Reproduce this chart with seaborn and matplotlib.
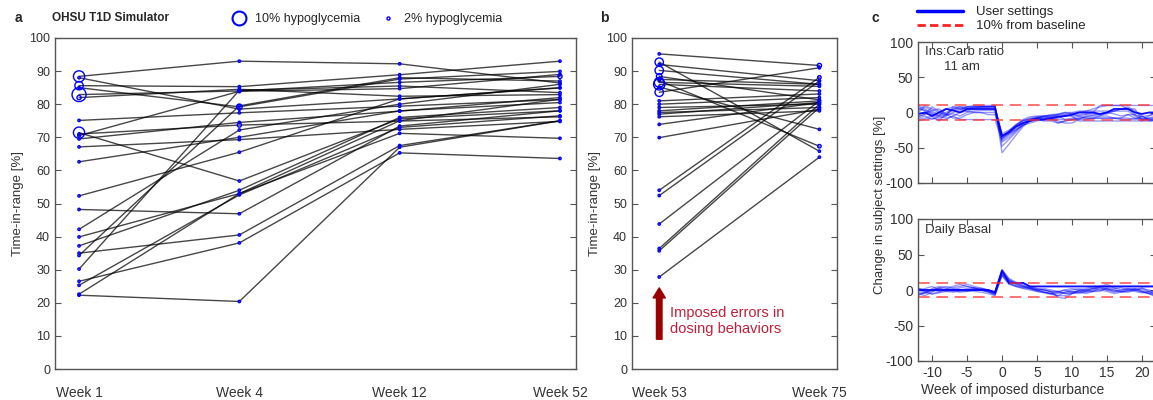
import numpy as np
import pandas as pd
import matplotlib
matplotlib.use("Agg")
import matplotlib.pyplot as plt
from matplotlib.lines import Line2D
import seaborn as sns

sns.set_style("ticks")
plt.rcParams['font.family'] = ['Liberation Sans', 'DejaVu Sans']
plt.rcParams['axes.unicode_minus'] = False

# ---------------- Panel a data ----------------
weeks_a = ["Week 1", "Week 4", "Week 12", "Week 52"]
tir_w1 = [88.4, 88.0, 85.6, 85.0, 82.9, 82.0, 75.1, 71.4, 70.5, 71.0, 69.5, 67.1, 62.6,
          52.3, 48.2, 42.2, 39.9, 37.2, 35.0, 34.3, 30.2, 26.5, 25.3, 22.6, 22.3]
tir_w4 = [93.0, 78.5, 85.3, 79.2, 84.0, 84.5, 77.4, 56.8, 83.9, 73.7, 74.5, 69.3, 70.0,
          65.5, 46.9, 72.2, 53.0, 54.0, 40.5, 79.5, 84.2, 38.1, 52.6, 53.0, 20.4]
tir_w12 = [92.2, 81.6, 88.9, 87.6, 86.6, 82.4, 79.4, 75.6, 84.7, 74.9, 77.9, 72.4, 78.0,
           81.6, 73.4, 80.0, 71.2, 76.0, 67.5, 88.0, 85.5, 65.3, 73.0, 75.0, 67.0]
tir_w52 = [86.4, 84.9, 93.0, 89.9, 88.4, 82.9, 81.4, 78.0, 89.0, 76.2, 82.0, 74.8, 80.5,
           85.0, 78.0, 86.0, 69.7, 79.0, 75.0, 87.0, 83.5, 63.6, 76.5, 81.5, 75.0]
hypo_w1 = [8, 1, 6, 1, 10, 3, 1, 8, 2, 1, 1, 1, 1, 1, 1.5, 1, 1, 1, 1, 1, 1, 1, 1, 1, 1]
hypo_w4 = [1, 1.5, 1, 4, 2.5, 1, 1.5, 1, 1, 3, 1, 1, 1, 1, 1, 1, 1, 1, 1.5, 1, 1, 1, 1, 1, 1]
hypo_w12 = [1, 1, 1, 1, 1, 1, 1, 1, 1.5, 1, 1, 1, 1, 1, 1, 1, 1, 1, 1, 1, 1, 1, 1, 1, 1]
hypo_w52 = [1, 1, 1, 1, 3, 1, 1, 1, 1, 1, 1, 1, 1, 1, 1, 1, 1, 1, 1, 1, 1, 1, 1, 1, 1]

# ---------------- Panel b data ----------------
weeks_b = ["Week 53", "Week 75"]
tir_w53 = [95.2, 92.7, 92.0, 90.2, 88.4, 87.5, 87.1, 86.6, 86.0, 85.2, 83.6, 81.0, 80.0,
           79.0, 78.0, 77.5, 77.0, 76.2, 73.9, 69.9, 54.0, 52.4, 43.8, 36.4, 35.7, 27.8]
tir_w75 = [91.7, 65.8, 87.1, 86.0, 81.3, 86.0, 67.3, 85.4, 84.0, 72.4, 91.0, 83.1, 82.0,
           80.0, 81.0, 79.0, 80.5, 78.0, 80.5, 78.5, 88.1, 87.0, 81.0, 80.0, 79.0, 64.0]
hypo_w53 = [1, 6, 1, 6, 4, 1, 1, 7, 8, 1, 6, 1, 1, 1, 1, 1, 1, 1, 0.8, 1, 1, 0.8, 0.8, 0.8, 0.8, 1.2]
hypo_w75 = [3, 1, 1, 1, 1, 1, 2.5, 1, 1, 1, 1, 1, 1, 1, 1, 1, 1, 1, 1, 1, 2.5, 1, 1, 1, 1, 1]

# ---------------- Panel c data ----------------
weeks_c = list(range(-12, 23))
icr_lines = [
    [-5, -3, 8, 2, -3, 5, 6, 6, 7, 8, 8, 8, -35,
     -28, -20, -12, -8, -6, -5, -4, -3, -2, -1, 0, 2, 5, 8, 10, 10, 10, 10, 10, 10, 10, 10],
    [-10, -8, -5, -12, -2, 3, 5, 8, 8, 8, 8, 8, -38,
     -30, -22, -15, -10, -8, -8, -6, -5, -10, -8, -5, -3, -2, -3, -2, 2, 5, 5, -3, -10, -5, 0],
    [10, 5, -2, -5, -8, -5, -10, -10, -10, -10, -10, -10, -40,
     -32, -25, -18, -12, -10, -12, -12, -15, -12, -10, -10, -10, -8, -5, 0, 2, 5, 8, 2, -5, -12, -10],
    [0, 8, 2, -3, 0, 5, 8, 5, 8, 8, 8, 10, -57,
     -45, -32, -20, -12, -8, -6, -5, -5, -3, -5, -12, -12, -12, -12, -12, -12, -12, -12, -12, -12, -12, -12],
    [-8, -5, -10, -5, 5, 8, 5, 2, 5, 8, 8, 8, -30,
     -25, -18, -10, -6, -5, -5, -3, -2, 0, -2, -5, -8, -8, -8, -8, -8, -8, -8, -10, -5, -10, -8],
    [3, 10, 5, 0, -5, 0, 3, 8, 10, 10, 10, 10, -42,
     -35, -26, -16, -10, -8, -10, -10, -8, -5, -5, -3, -2, 0, 10, 10, 10, 10, 5, 5, -10, -10, -12],
    [-12, -10, -8, -10, -10, -5, 0, 2, 0, 0, 0, 0, -34,
     -26, -18, -12, -10, -8, -8, -8, -15, -12, -10, -8, -8, -8, -8, -8, -8, -8, -3, -8, -8, -8, -8],
    [8, 2, -3, -8, -5, 8, 8, 8, 8, 8, 8, 8, -48,
     -38, -28, -18, -12, -8, -5, -5, -3, 0, 0, 2, 2, 2, 2, 2, 2, 2, 2, -5, -10, -10, -10],
    [-6, -2, 3, 5, -2, -8, -8, -3, 0, 0, -3, -3, -37,
     -27, -17, -11, -9, -7, -6, -8, -10, -10, -10, -8, -6, -4, -2, 0, -2, -5, -3, -3, -6, -4, -2],
    [5, 3, 0, -5, -3, -2, -5, 0, 2, 3, 3, 3, -36,
     -30, -24, -18, -15, -12, -10, -10, -12, -15, -15, -10, -5, -5, -5, -5, -8, -10, -10, -8, -12, -8, -5],
    [-2, 0, -5, 0, 5, 3, 0, 5, 5, 5, 5, 5, -33,
     -28, -20, -15, -12, -10, -10, -8, -6, -5, -3, 0, 0, 0, -2, 0, 5, 5, 5, 0, -2, 0, 0],
]
basal_lines = [
    [-3, -5, 0, 3, 0, -2, 0, 2, 3, 0, -2, -5, 25,
     12, 10, 10, 5, 2, 0, -2, -10, -12, -5, 0, 2, 5, 5, 5, 5, 5, 5, 5, 5, 5, 5],
    [0, 2, 5, 0, -2, 0, 3, 5, 3, 0, -3, -6, 28,
     15, 8, 5, 3, 0, -3, -5, -5, -3, 0, 2, 0, -2, 3, 0, -3, 0, 2, 0, -3, -5, -8],
    [-5, -8, -3, 2, 0, 0, 0, 0, -2, -3, -5, -8, 22,
     10, 5, 3, 2, 0, 0, -2, -3, -5, -5, -3, 0, 2, 3, 0, 0, -2, 0, 2, 0, -3, -5],
    [2, 0, -2, 3, 5, 3, 5, 8, 5, 3, 0, -3, 26,
     14, 10, 6, 3, 0, 2, 0, -2, 0, 2, 0, -2, 0, 5, 8, 3, 0, 2, 0, 3, -2, -3],
    [-8, -3, 0, -2, 0, 2, 0, -2, 0, 0, -2, -5, 20,
     8, 5, 2, 0, -2, -3, -5, -8, -3, -2, -3, -5, -2, 0, 2, -2, -3, -2, 0, -2, -5, -10],
    [3, -2, -5, -3, 2, 5, 8, 5, 3, 2, 0, -5, 24,
     13, 8, 5, 2, 0, -3, -5, -3, 0, -3, -5, -2, 2, 0, -2, -5, -3, 0, 2, -2, -5, -6],
    [-6, -4, 2, 5, 3, 0, -3, -2, 0, 2, 0, -4, 29,
     16, 11, 7, 4, 2, 0, -3, -2, -5, -3, -1, 0, 3, 5, 2, 0, -2, -3, 0, 2, 0, -4],
    [0, -3, -6, -4, -2, -3, -2, 0, 2, 0, -2, -7, 21,
     9, 6, 4, 2, -2, -4, -6, -8, -8, -5, -2, -3, -2, -2, 3, 2, 3, 0, -2, -4, -2, -7],
    [0, 0, 0, 0, 0, 0, 0, 0, 0, 0, 0, -3, 27,
     10, 10, 10, 5, 5, 5, 5, 5, 5, 5, 5, 5, 5, 5, 5, 5, 5, 5, 5, 5, 5, 5],
]
baseline_band = [10, -10]

# ---------------- helpers ----------------
W, H = 1153, 400
fig = plt.figure(figsize=(W / 100, H / 100), dpi=100)

def px_axes(l, t, r, b):
    return fig.add_axes([l / W, 1 - b / H, (r - l) / W, (b - t) / H])

SPINE = '#555555'
TXT = '#333333'
BLUE = '#0000ff'

def style_axes(ax):
    for s in ax.spines.values():
        s.set_color(SPINE)
        s.set_linewidth(1.0)
    ax.tick_params(direction='in', colors=SPINE, labelcolor=TXT, top=True, right=True,
                   length=4, width=0.8)

def long_df(cols, hypos):
    rows = []
    n = len(cols[0])
    for j in range(n):
        for i in range(len(cols)):
            h = hypos[i][j]
            d_px = max(1.4 * h, 2.4)
            d_pt = d_px * 0.72
            rows.append(dict(subject=j, pos=i, tir=cols[i][j], area=d_pt ** 2))
    return pd.DataFrame(rows)

def draw_tir(ax, df):
    sns.lineplot(data=df, x='pos', y='tir', units='subject', estimator=None, sort=False,
                 color='black', alpha=0.72, lw=1.0, ax=ax, legend=False)
    lo, hi = df['area'].min(), df['area'].max()
    sns.scatterplot(data=df, x='pos', y='tir', size='area', sizes=(lo, hi), size_norm=(lo, hi),
                    facecolor='none', edgecolor=BLUE, linewidth=1.0, ax=ax, legend=False, zorder=3)

# ---------------- Panel a ----------------
axa = px_axes(55, 38, 576, 369)
dfa = long_df([tir_w1, tir_w4, tir_w12, tir_w52], [hypo_w1, hypo_w4, hypo_w12, hypo_w52])
draw_tir(axa, dfa)
style_axes(axa)
axa.set_xlim(-0.15, 3.1)
axa.set_ylim(0, 100)
axa.set_yticks(range(0, 101, 10))
axa.set_xticks(range(4))
axa.set_xticklabels(weeks_a, fontsize=10)
axa.tick_params(axis='x', length=0, pad=12)
axa.tick_params(axis='y', labelsize=9)
axa.set_xlabel('')
axa.set_ylabel('Time-in-range [%]', fontsize=9.5, color=TXT, labelpad=4)

# ---------------- Panel b ----------------
axb = px_axes(632, 38, 837, 369)
dfb = long_df([tir_w53, tir_w75], [hypo_w53, hypo_w75])
draw_tir(axb, dfb)
style_axes(axb)
axb.set_xlim(-0.17, 1.11)
axb.set_ylim(0, 100)
axb.set_yticks(range(0, 101, 10))
axb.set_xticks(range(2))
axb.set_xticklabels(weeks_b, fontsize=10)
axb.tick_params(axis='x', length=0, pad=12)
axb.tick_params(axis='y', labelsize=9)
axb.set_xlabel('')
axb.set_ylabel('Time-in-range [%]', fontsize=9.5, color=TXT, labelpad=4)
axb.annotate('', xy=(0, 24.5), xytext=(0, 9),
             arrowprops=dict(arrowstyle='simple,head_width=1.1,head_length=0.9,tail_width=0.5',
                             color='#9b0000', mutation_scale=8, shrinkA=0, shrinkB=0))
axb.text(0.07, 14.5, 'Imposed errors in\ndosing behaviors', color='#c21f3a', fontsize=10.5,
         ha='left', va='center', linespacing=1.15)

# ---------------- Panel c ----------------
def draw_c(ax, lines):
    rows = []
    for k, ln in enumerate(lines):
        for w, v in zip(weeks_c, ln):
            rows.append(dict(line=k, week=w, val=v))
    df = pd.DataFrame(rows)
    sns.lineplot(data=df, x='week', y='val', units='line', estimator=None, color=BLUE,
                 alpha=0.4, lw=1.0, ax=ax, legend=False)
    last = df[df['line'] == len(lines) - 1]
    sns.lineplot(data=last, x='week', y='val', color=BLUE, alpha=0.9, lw=1.3, ax=ax, legend=False)
    for yb in baseline_band:
        ax.axhline(yb, color='#ff3030', lw=1.2, dashes=(7, 4), alpha=0.8)
    style_axes(ax)
    ax.set_xlim(-12, 22)
    ax.set_ylim(-100, 100)
    ax.set_yticks([-100, -50, 0, 50, 100])
    ax.set_xticks([-10, -5, 0, 5, 10, 15, 20])
    ax.tick_params(labelsize=10)
    ax.set_xlabel('')
    ax.set_ylabel('')

axc1 = px_axes(918, 42, 1156, 183)
draw_c(axc1, icr_lines)
axc1.tick_params(axis='x', labelbottom=False)
fig.text(925 / W, 1 - 52 / H, 'Ins:Carb ratio', fontsize=9.5, color=TXT, va='center', ha='left')
fig.text(944 / W, 1 - 67 / H, '11 am', fontsize=9.5, color=TXT, va='center', ha='left')

axc2 = px_axes(918, 219, 1156, 361)
draw_c(axc2, basal_lines)
fig.text(925 / W, 1 - 230 / H, 'Daily Basal', fontsize=9.5, color=TXT, va='center', ha='left')
fig.text(1013 / W, 1 - 390 / H, 'Week of imposed disturbance', fontsize=10, color=TXT,
         ha='center', va='center')
fig.text(880 / W, 1 - 205 / H, 'Change in subject settings [%]', fontsize=9.5, color=TXT,
         ha='center', va='center', rotation=90)

# ---------------- Titles, labels, legends ----------------
fig.text(15 / W, 1 - 18 / H, 'a', fontsize=10, fontweight='bold', va='center')
fig.text(52 / W, 1 - 18 / H, 'OHSU T1D Simulator', fontsize=8.5, fontweight='bold', va='center')
fig.text(600 / W, 1 - 18 / H, 'b', fontsize=10, fontweight='bold', va='center')
fig.text(872 / W, 1 - 18 / H, 'c', fontsize=10, fontweight='bold', va='center')

hyp_handles = [
    Line2D([], [], marker='o', ls='none', mfc='none', mec=BLUE, mew=1.5, markersize=10),
    Line2D([], [], marker='o', ls='none', mfc='none', mec=BLUE, mew=1.0, markersize=2.2),
]
fig.legend(hyp_handles, ['10% hypoglycemia', '2% hypoglycemia'], loc='center left',
           bbox_to_anchor=(226 / W, 1 - 19 / H), ncol=2, frameon=False, fontsize=9,
           handletextpad=0.3, columnspacing=1.2, borderaxespad=0, borderpad=0)

c_handles = [
    Line2D([], [], color=BLUE, lw=2.5),
    Line2D([], [], color='#ff2020', lw=2.0, dashes=(3, 1.5)),
]
fig.legend(c_handles, ['User settings', '10% from baseline'], loc='upper left',
           bbox_to_anchor=(917 / W, 1 - 6 / H), frameon=False, fontsize=9.5,
           handlelength=3.5, handletextpad=1.0, labelspacing=0.15, borderaxespad=0, borderpad=0)

fig.savefig('out.png', dpi=100)
